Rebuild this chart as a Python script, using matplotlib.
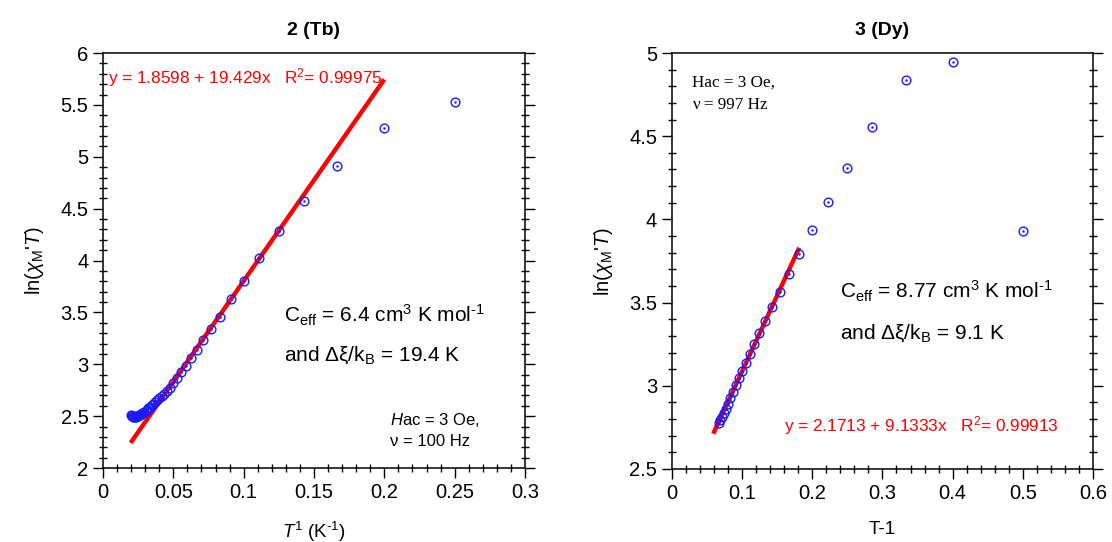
import matplotlib
matplotlib.use("Agg")
import matplotlib.pyplot as plt
from matplotlib.ticker import MultipleLocator, FuncFormatter

plt.rcParams['font.family'] = ['Liberation Sans', 'DejaVu Sans']
plt.rcParams['mathtext.fontset'] = 'custom'
plt.rcParams['mathtext.rm'] = 'Liberation Sans'
plt.rcParams['mathtext.it'] = 'Liberation Sans:italic'
plt.rcParams['mathtext.bf'] = 'Liberation Sans:bold'

# --- data: 2 (Tb), ln(chi'T) vs 1/T ---
tb_x = [0.0200, 0.0204, 0.0208, 0.0213, 0.0217, 0.0222, 0.0227, 0.0233, 0.0238, 0.0244,
        0.0250, 0.0256, 0.0263, 0.0270, 0.0278, 0.0286, 0.0294, 0.0303, 0.0313, 0.0323,
        0.0333, 0.0345, 0.0357, 0.0370, 0.0385, 0.0400, 0.0417, 0.0435, 0.0455, 0.0476,
        0.0500, 0.0526, 0.0556, 0.0588, 0.0625, 0.0667, 0.0714, 0.0769, 0.0833, 0.0909,
        0.1000, 0.1111, 0.1250, 0.1429, 0.1667, 0.2000, 0.2500]
tb_y = [2.510, 2.505, 2.500, 2.497, 2.495, 2.494, 2.494, 2.495, 2.497, 2.500,
        2.504, 2.508, 2.513, 2.519, 2.526, 2.534, 2.543, 2.553, 2.564, 2.576,
        2.589, 2.603, 2.618, 2.635, 2.653, 2.672, 2.692, 2.714, 2.738, 2.775,
        2.820, 2.870, 2.930, 2.980, 3.060, 3.140, 3.230, 3.340, 3.460, 3.630,
        3.800, 4.020, 4.285, 4.570, 4.910, 5.280, 5.530]
tb_fit_a, tb_fit_b = 1.8598, 19.429
tb_fit_x = [0.0197, 0.2]

# --- data: 3 (Dy) ---
dy_x = [0.0667, 0.0690, 0.0714, 0.0741, 0.0769, 0.0800, 0.0833, 0.0870, 0.0909, 0.0952,
        0.1000, 0.1053, 0.1111, 0.1176, 0.1250, 0.1333, 0.1429, 0.1538, 0.1667, 0.1818,
        0.2000, 0.2222, 0.2500, 0.2857, 0.3333, 0.4000, 0.5000]
dy_y = [2.775, 2.795, 2.815, 2.838, 2.862, 2.890, 2.925, 2.963, 3.003, 3.045,
        3.090, 3.137, 3.190, 3.252, 3.320, 3.392, 3.472, 3.565, 3.670, 3.793,
        3.937, 4.107, 4.308, 4.555, 4.835, 4.945, 3.930]
dy_fit_a, dy_fit_b = 2.1713, 9.1333
dy_fit_x = [0.0592, 0.1816]

fig = plt.figure(figsize=(11.12, 5.42), dpi=100)
ax1 = fig.add_axes([0.0926, 0.1365, 0.3795, 0.7657])
ax2 = fig.add_axes([0.6040, 0.1347, 0.3791, 0.7675])

ylab = r"ln($\chi_{\mathrm{M}}$'$T$)"
HY = '\u2010'  # short hyphen used in the superscripts


def style_axis(ax, xmaj, xmin, ymaj, ymin):
    ax.xaxis.set_major_locator(MultipleLocator(xmaj))
    ax.xaxis.set_minor_locator(MultipleLocator(xmin))
    ax.yaxis.set_major_locator(MultipleLocator(ymaj))
    ax.yaxis.set_minor_locator(MultipleLocator(ymin))
    fmt = FuncFormatter(lambda v, p: '%g' % round(v, 4))
    ax.xaxis.set_major_formatter(fmt)
    ax.yaxis.set_major_formatter(fmt)
    ax.tick_params(which='major', direction='out', length=7, width=1,
                   labelsize=14.5, left=True, right=True, bottom=True, top=False)
    ax.tick_params(which='minor', direction='inout', length=6, width=1,
                   left=True, right=True, bottom=True, top=False)
    for s in ax.spines.values():
        s.set_linewidth(1.1)


def draw_points(ax, xs, ys):
    ax.plot(xs, ys, 'o', ms=6.3, mfc='none', mec='#1a1aff', mew=1.0, zorder=3)
    ax.plot(xs, ys, '.', ms=1.5, color='#1a1aff', zorder=4)


# ---- left panel ----
ax1.plot(tb_fit_x, [tb_fit_a + tb_fit_b * v for v in tb_fit_x],
         color='red', lw=3.2, solid_capstyle='butt', zorder=2)
draw_points(ax1, tb_x, tb_y)
ax1.set_xlim(0, 0.3)
ax1.set_ylim(2, 6)
style_axis(ax1, 0.05, 0.01, 0.5, 0.1)
ax1.set_title('2 (Tb)', fontsize=14, fontweight='bold', pad=13)
ax1.set_xlabel(r'$T^{1}$ (K$^{' + HY + '1}$)', fontsize=13.5, labelpad=13)
ax1.set_ylabel(ylab, fontsize=14.5, labelpad=10)
ax1.text(0.012, 0.94, r'y = 1.8598 + 19.429x   R$^2$= 0.99975', color='red',
         fontsize=12.4, transform=ax1.transAxes, va='center')
ax1.text(0.429, 0.35, r'C$_{\mathrm{eff}}$ = 6.4 cm$^3$ K mol$^{' + HY + '1}$',
         fontsize=15, transform=ax1.transAxes, va='baseline')
ax1.text(0.429, 0.259, r'and $\mathrm{\Delta\xi}$/k$_{\mathrm{B}}$ = 19.4 K',
         fontsize=15, transform=ax1.transAxes, va='baseline')
ax1.text(0.68, 0.104, r'$H$ac = 3 Oe,', fontsize=12,
         transform=ax1.transAxes, va='baseline')
ax1.text(0.68, 0.052, 'ν = 100 Hz', fontsize=12,
         transform=ax1.transAxes, va='baseline')

# ---- right panel ----
ax2.plot(dy_fit_x, [dy_fit_a + dy_fit_b * v for v in dy_fit_x],
         color='red', lw=3.2, solid_capstyle='butt', zorder=2)
draw_points(ax2, dy_x, dy_y)
ax2.set_xlim(0, 0.6)
ax2.set_ylim(2.5, 5)
style_axis(ax2, 0.1, 0.02, 0.5, 0.1)
ax2.set_title('3 (Dy)', fontsize=14, fontweight='bold', pad=13)
ax2.set_xlabel('T-1', fontsize=13.5, labelpad=13)
ax2.set_ylabel(ylab, fontsize=14.5, labelpad=10)
ax2.text(0.048, 0.918, 'Hac = 3 Oe,', fontsize=12.3, family='Liberation Serif',
         transform=ax2.transAxes, va='baseline')
ax2.text(0.048, 0.865, 'ν = 997 Hz', fontsize=12.3, family='Liberation Serif',
         transform=ax2.transAxes, va='baseline')
ax2.text(0.399, 0.41, r'C$_{\mathrm{eff}}$ = 8.77 cm$^3$ K mol$^{' + HY + '1}$',
         fontsize=15, transform=ax2.transAxes, va='baseline')
ax2.text(0.399, 0.314, r'and $\mathrm{\Delta\xi}$/k$_{\mathrm{B}}$ = 9.1 K',
         fontsize=15, transform=ax2.transAxes, va='baseline')
ax2.text(0.266, 0.091, r'y = 2.1713 + 9.1333x   R$^2$= 0.99913', color='red',
         fontsize=12.4, transform=ax2.transAxes, va='baseline')

fig.savefig('out.png', dpi=100)
